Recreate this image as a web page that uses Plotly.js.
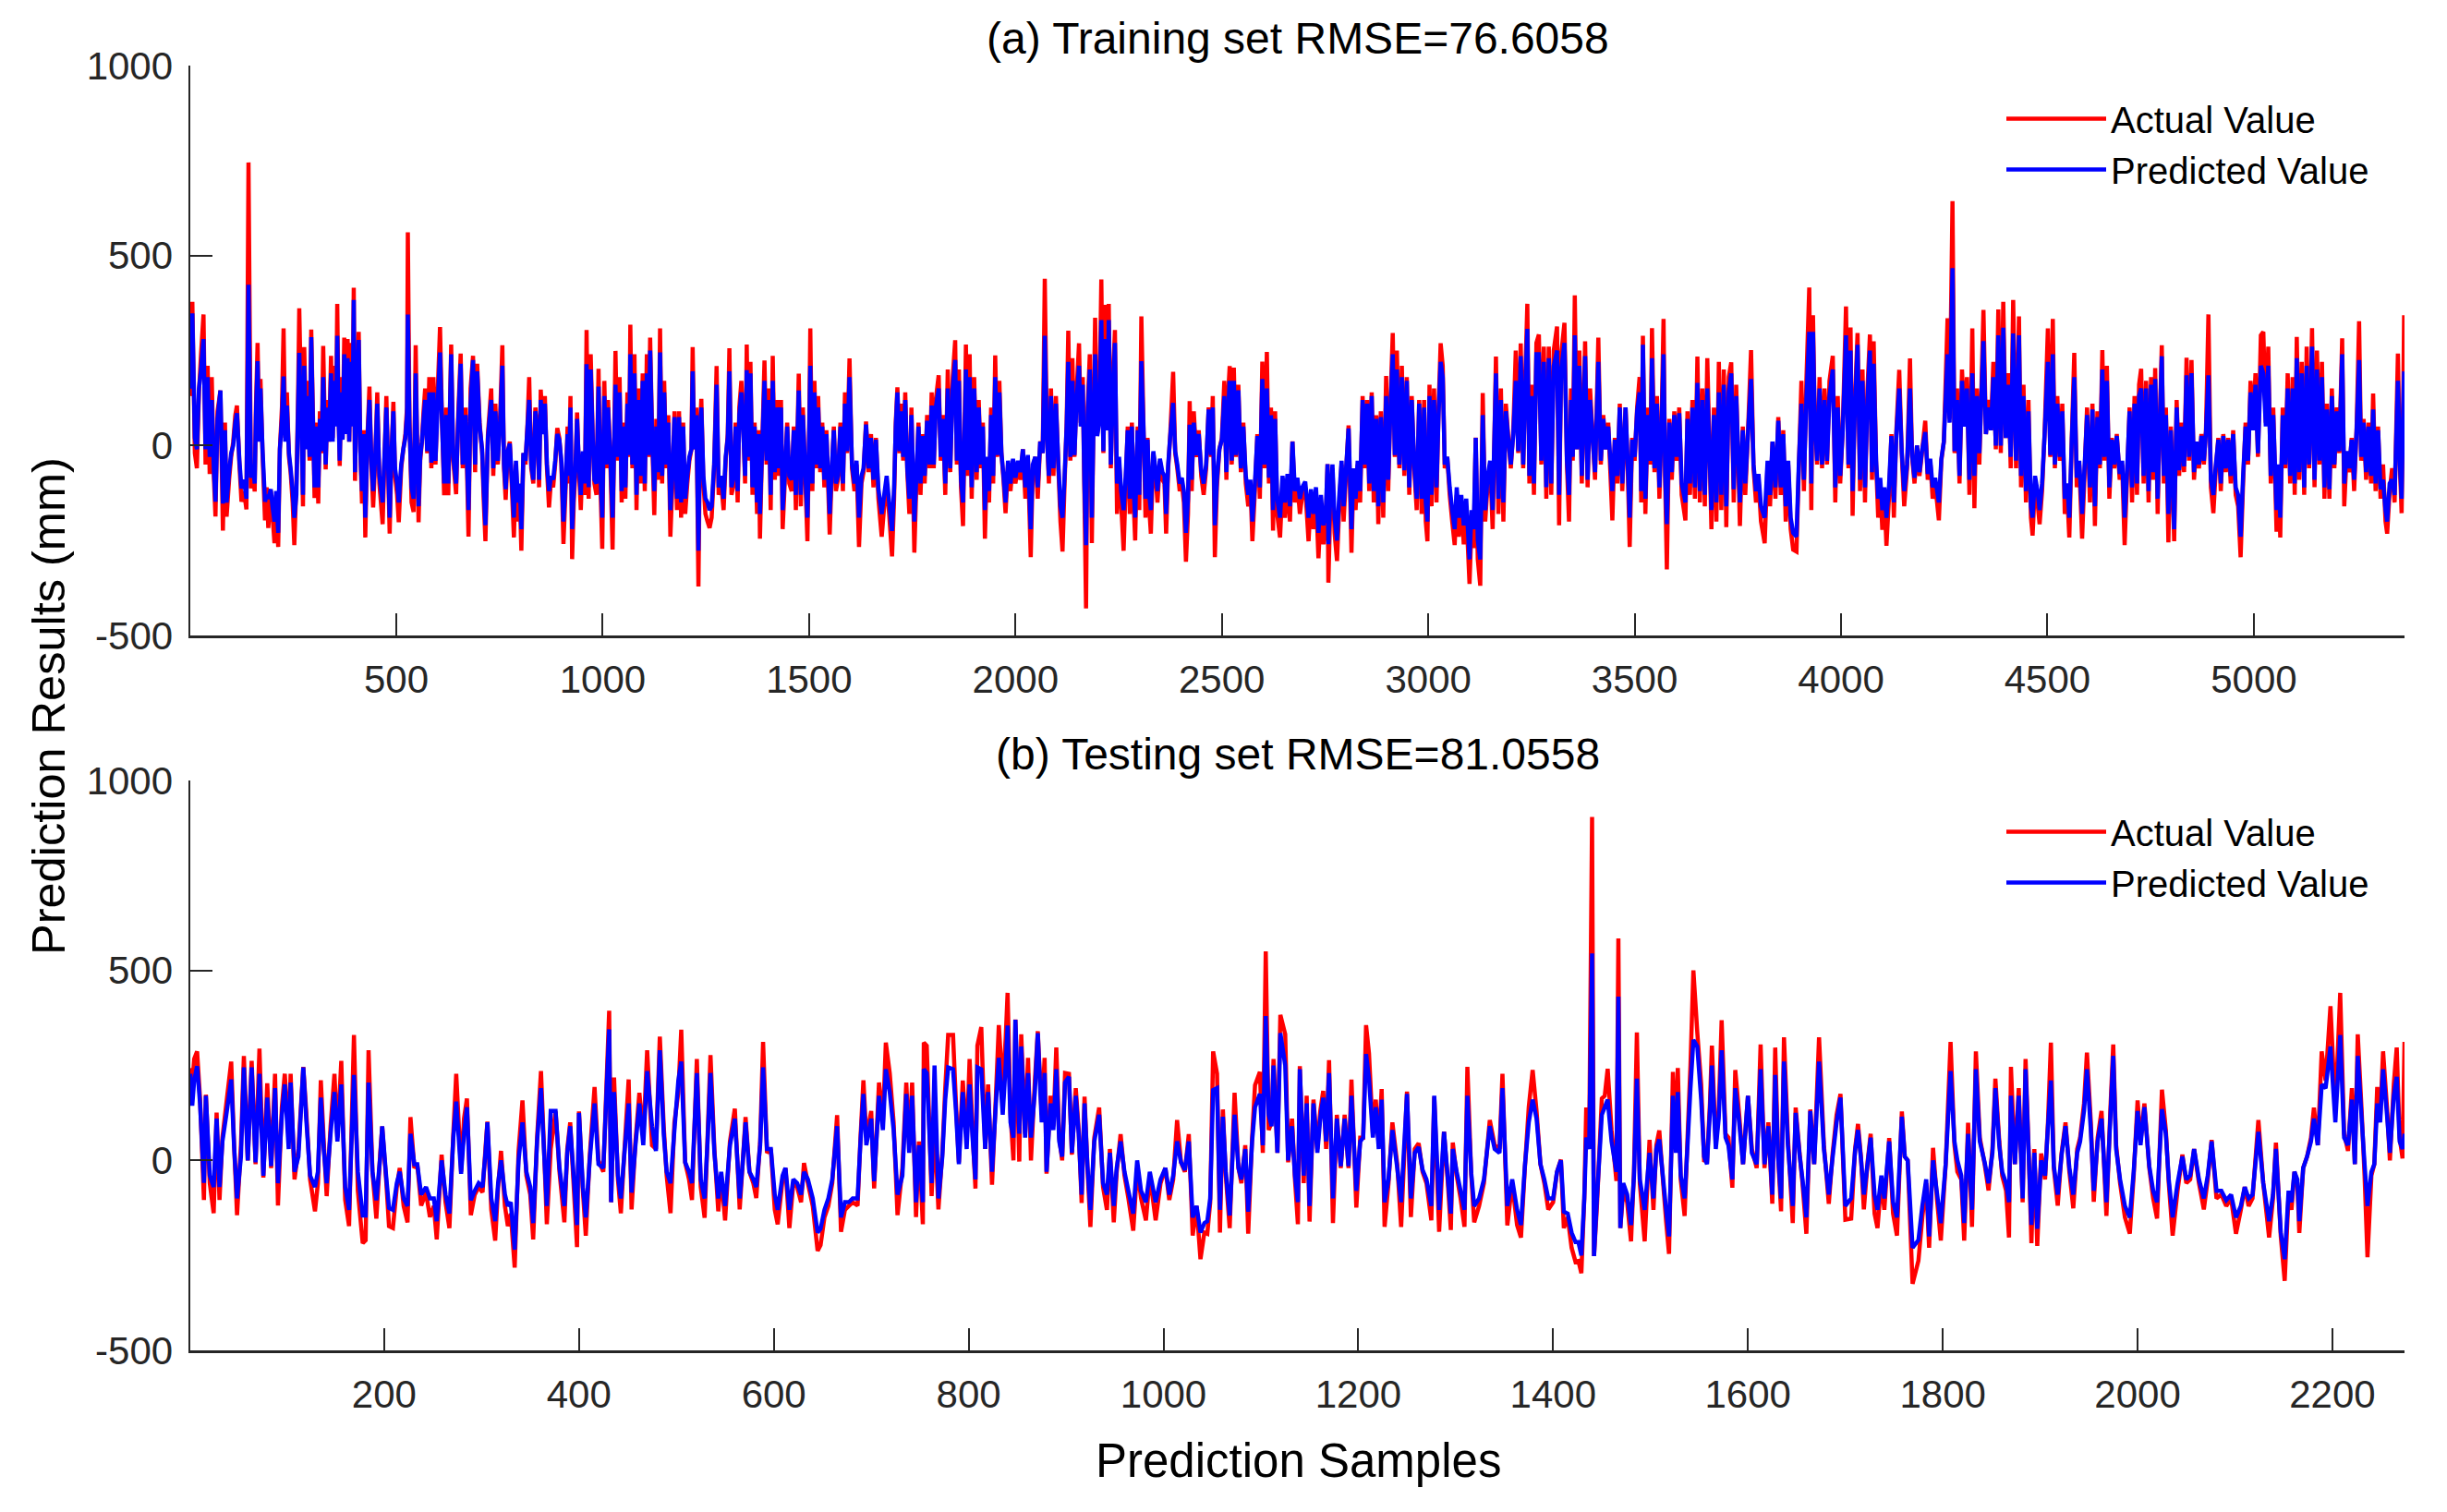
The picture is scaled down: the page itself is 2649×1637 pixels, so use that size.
<!DOCTYPE html>
<html><head><meta charset="utf-8">
<script src="https://cdn.plot.ly/plotly-3.0.1.min.js"></script>
<style>html,body{margin:0;padding:0;background:#fff}</style></head>
<body><div id="chart" style="width:2649px;height:1637px"></div>
<script>
const trainX=[1,6,12,17,22,27,33,38,43,48,
53,58,62,67,74,80,85,89,95,100,
105,110,114,120,125,131,137,142,148,153,
157,160,164,168,171,176,182,186,190,196,
200,205,209,214,218,223,227,231,235,240,
244,249,253,258,262,265,270,274,277,282,
286,290,294,298,302,306,311,315,319,323,
329,333,337,342,346,350,354,357,360,363,
367,370,374,378,382,386,390,394,397,400,
404,409,413,417,421,425,430,435,440,444,
449,454,459,467,471,476,484,488,493,497,
502,506,512,517,522,526,528,532,537,542,
547,551,554,558,562,566,570,575,580,585,
590,595,600,606,611,616,621,626,633,638,
645,650,656,661,668,675,680,686,691,696,
702,708,712,716,722,730,735,740,746,752,
757,761,765,770,775,780,785,790,795,799,
803,808,813,818,822,827,832,837,842,846,
850,855,860,865,870,875,880,885,890,895,
900,905,910,915,918,922,926,930,934,938,
942,947,952,957,961,966,971,976,980,985,
990,994,999,1004,1009,1013,1018,1024,1031,1036,
1041,1046,1050,1055,1060,1064,1067,1072,1077,1082,
1087,1092,1097,1102,1107,1111,1115,1120,1125,1130,
1135,1139,1144,1149,1154,1159,1164,1169,1174,1180,
1185,1190,1195,1200,1205,1210,1215,1218,1222,1227,
1232,1236,1239,1244,1249,1254,1259,1264,1270,1276,
1281,1287,1293,1298,1303,1307,1312,1318,1322,1327,
1331,1336,1341,1345,1349,1353,1358,1363,1368,1374,
1378,1381,1385,1392,1397,1402,1407,1412,1417,1422,
1427,1432,1436,1441,1447,1452,1458,1463,1468,1475,
1480,1485,1490,1496,1500,1503,1508,1513,1518,1522,
1527,1532,1537,1542,1550,1555,1560,1565,1570,1576,
1582,1587,1592,1598,1604,1610,1615,1621,1627,1632,
1638,1644,1650,1656,1662,1668,1676,1682,1688,1694,
1701,1706,1710,1714,1719,1724,1728,1733,1738,1743,
1748,1755,1760,1765,1770,1775,1780,1786,1792,1797,
1802,1807,1814,1819,1824,1830,1836,1842,1848,1854,
1858,1863,1868,1873,1880,1884,1889,1894,1900,1906,
1911,1916,1921,1926,1931,1936,1941,1946,1951,1956,
1961,1966,1971,1976,1982,1988,1994,2000,2006,2012,
2018,2024,2030,2037,2042,2048,2054,2060,2066,2071,
2076,2081,2086,2092,2098,2104,2109,2114,2119,2124,
2128,2133,2138,2143,2148,2154,2158,2163,2167,2171,
2175,2180,2185,2189,2193,2198,2203,2208,2213,2218,
2222,2226,2231,2236,2241,2246,2251,2256,2262,2267,
2272,2277,2282,2286,2290,2296,2300,2305,2310,2315,
2320,2325,2328,2334,2339,2344,2350,2356,2361,2365,
2370,2375,2382,2387,2392,2398,2403,2408,2413,2418,
2422,2427,2432,2438,2444,2450,2456,2462,2468,2474,
2478,2483,2488,2494,2500,2506,2511,2516,2519,2524,
2529,2534,2540,2546,2552,2558,2564,2569,2574,2580,
2586,2592,2598,2603,2609,2614,2619,2624,2629,2634,
2641,2647,2653,2659,2665,2671,2677,2683,2689,2695,
2702,2710,2716,2722,2728,2734,2740,2746,2752,2756,
2758,2763,2768,2773,2779,2784,2790,2795,2801,2807,
2814,2819,2824,2829,2835,2841,2846,2852,2857,2863,
2868,2874,2879,2885,2891,2898,2903,2908,2914,2919,
2924,2930,2936,2942,2948,2954,2960,2966,2972,2978,
2984,2990,2994,2998,3003,3008,3014,3020,3025,3030,
3035,3040,3046,3052,3058,3064,3069,3074,3080,3086,
3092,3100,3105,3110,3115,3120,3126,3132,3138,3144,
3150,3156,3164,3170,3176,3182,3188,3194,3200,3206,
3212,3218,3224,3230,3235,3240,3245,3250,3256,3262,
3268,3274,3280,3286,3292,3298,3304,3312,3317,3322,
3330,3336,3341,3346,3350,3355,3360,3366,3372,3380,
3386,3392,3398,3404,3412,3418,3424,3430,3436,3446,
3452,3458,3464,3470,3478,3483,3488,3494,3500,3506,
3512,3516,3520,3526,3532,3538,3542,3548,3554,3560,
3565,3570,3574,3578,3584,3590,3596,3602,3608,3614,
3623,3628,3634,3640,3646,3652,3658,3664,3670,3676,
3686,3692,3698,3704,3710,3716,3722,3728,3734,3740,
3746,3755,3762,3768,3774,3782,3788,3794,3800,3806,
3815,3822,3828,3834,3841,3848,3854,3860,3866,3872,
3878,3884,3892,3898,3904,3910,3916,3923,3928,3932,
3936,3942,3948,3954,3960,3966,3972,3980,3986,3992,
3998,4004,4012,4018,4023,4028,4033,4040,4046,4052,
4058,4064,4070,4075,4079,4085,4090,4095,4100,4105,
4110,4116,4122,4128,4134,4141,4147,4153,4160,4167,
4172,4178,4184,4190,4196,4204,4210,4216,4222,4228,
4237,4243,4249,4258,4263,4270,4275,4281,4287,4293,
4299,4305,4311,4318,4323,4329,4335,4340,4345,4351,
4357,4363,4369,4375,4381,4387,4393,4399,4405,4411,
4417,4424,4431,4436,4442,4448,4454,4460,4464,4470,
4476,4481,4487,4493,4501,4507,4513,4518,4524,4530,
4536,4542,4548,4553,4559,4565,4571,4577,4584,4590,
4596,4603,4609,4615,4621,4627,4633,4638,4644,4650,
4656,4662,4668,4675,4681,4687,4693,4699,4705,4711,
4717,4722,4727,4733,4739,4745,4751,4756,4761,4767,
4772,4777,4782,4787,4793,4799,4807,4813,4819,4825,
4831,4837,4843,4849,4855,4861,4867,4873,4879,4884,
4890,4896,4902,4908,4914,4920,4926,4932,4938,4944,
4950,4956,4962,4968,4974,4980,4986,4992,4998,5004,
5010,5017,5023,5029,5035,5041,5047,5055,5059,5064,
5070,5076,5082,5088,5094,5099,5104,5110,5116,5122,
5128,5134,5141,5147,5153,5159,5165,5171,5177,5183,
5189,5195,5201,5207,5214,5219,5225,5231,5237,5243,
5249,5255,5260,5266,5272,5278,5284,5289,5295,5301,
5307,5313,5319,5323,5329,5335,5341,5349,5354,5358,
5362,5364];
const trainActual=[130,378,-20,-60,140,240,345,-50,210,-75,
180,-80,-187,90,145,-224,60,-187,-90,-30,
10,80,105,-50,-148,-120,-168,745,-113,-70,
-121,100,270,20,175,-20,-197,-110,-217,-120,
-180,-257,-130,-267,-10,100,308,20,140,-30,
-70,-150,-262,-100,120,361,80,-160,259,20,
170,-40,305,90,-138,60,-153,90,-20,262,
-63,120,10,236,20,210,60,373,100,-54,
180,20,284,40,280,10,270,60,415,-93,
150,299,-20,-153,40,-242,20,155,-60,-163,
-40,140,-100,-207,-50,130,-232,-40,115,-80,
-130,-202,-60,-10,30,100,561,70,-150,-175,
264,-30,-202,-40,10,90,150,-20,180,-60,
180,-50,130,312,60,-131,100,-131,266,-40,
-128,80,242,-60,100,-240,150,236,-70,215,
60,-20,-150,-252,30,150,-80,110,-50,90,
264,-60,-143,-20,10,-110,-242,-50,-200,-120,
-277,-20,-50,60,180,-60,-100,100,40,-110,
147,40,130,-60,-163,-90,-110,-50,46,20,
-50,-259,-120,50,-100,130,-299,-150,-70,87,
-50,-170,-20,-130,304,-140,240,20,-100,-130,
202,-80,-272,170,-60,120,-20,-274,249,-40,
180,-150,60,-140,140,-30,318,-60,240,-170,
150,-100,190,-120,240,-30,284,20,-183,70,
-90,308,-100,170,-60,80,-240,-100,90,-170,
90,-190,60,-180,-100,-40,-10,259,-10,100,
-371,50,123,-100,-180,-200,-217,-190,-60,209,
-130,-100,-170,-40,30,256,-130,-100,60,-150,
100,170,40,-100,266,-40,220,-130,60,-180,
40,-245,-60,224,-50,150,-170,236,-90,120,
-80,120,-220,-100,60,-100,-120,50,-170,189,
-160,100,-60,-252,20,308,-120,170,-60,130,
-70,60,-110,40,-234,-70,50,-120,-90,60,
-120,140,-20,229,-60,-120,-50,-267,-100,-70,
63,-70,30,-110,20,-140,-240,-160,-100,-180,
-292,-140,60,153,-20,110,-40,140,-70,-180,
100,-282,-100,60,-130,30,-100,80,-60,140,
-60,120,185,-40,80,-130,200,-70,180,277,
-50,200,-110,-212,266,-80,240,-140,180,-90,
120,-60,60,-245,-40,-150,100,-100,237,-30,
170,-20,-90,-178,-50,-120,-40,-100,-50,-90,
-10,-140,-30,-294,-60,-30,-140,11,-20,439,
40,-100,150,-80,130,-60,-200,-279,-100,60,
302,-40,230,-30,140,269,60,180,-130,-429,
100,240,-257,60,336,30,80,437,-20,370,
50,373,-60,170,304,-180,-40,-150,-277,-100,
50,-180,60,-140,-250,50,-170,340,60,-190,
20,-180,-232,-20,-70,-150,-40,-90,-100,-232,
-60,30,194,-20,-60,-120,-100,-150,-306,-180,
117,-120,90,-30,40,-80,-130,-60,100,-30,
130,-294,-110,-10,20,170,-90,150,209,-50,
205,-30,160,-70,60,-100,-160,-100,-252,-120,
30,-140,221,-60,246,-100,100,-224,90,-180,
-242,-100,-190,-90,-200,11,-150,-100,-180,-130,
-110,-252,-130,-220,-130,-297,-160,-260,-200,-49,
-361,-150,-60,-230,-304,-170,-50,-200,-70,53,
-282,-70,-170,-50,-150,130,-60,120,-120,140,
-150,80,-207,90,-190,183,-120,100,296,-30,
250,-60,210,-80,180,-130,130,-60,-170,120,
-180,120,-200,-252,160,-160,150,-150,100,269,
210,-60,-30,-130,-200,-262,-130,-240,-150,-260,
-170,-364,-200,-270,21,-300,-369,138,-200,-100,
-50,-220,234,-180,150,-200,110,20,-60,40,
250,-20,269,-60,180,373,-100,160,-130,270,
292,-50,260,-140,260,-130,250,313,-210,240,
323,-50,-200,150,-40,395,-10,250,-100,274,
-110,150,30,-90,284,-50,80,-10,60,-197,
20,-100,110,-120,100,-50,-267,20,-40,100,
180,-150,289,-180,100,-50,309,-70,130,-140,
50,333,-100,-326,70,-90,90,-40,100,-130,
-197,90,-130,120,-140,234,-150,150,-160,230,
-220,100,-200,220,-170,200,-215,180,219,-150,
160,-212,50,-130,20,251,-60,-150,-90,-200,
-257,-50,-160,10,-140,75,-130,40,-200,-50,
-220,-274,-279,-50,170,-120,170,416,-170,343,
100,-50,180,-60,150,-50,170,236,-150,130,
-100,40,366,-60,311,-185,100,296,-120,200,
-150,150,292,-90,274,-50,-190,-100,-222,-130,
-264,-140,30,-190,40,199,-20,-160,-60,229,
-30,-100,0,-80,-20,65,-90,-40,-140,-100,
-197,-40,10,335,70,643,-20,150,-100,200,
60,180,-130,308,-165,150,-50,150,357,30,
120,40,220,-10,358,-20,378,20,190,-60,
383,-60,340,-110,160,-150,120,-190,-237,-100,
-150,-207,-120,30,308,-30,333,-60,130,-40,
110,-180,-130,-242,20,244,-110,-50,-245,-70,
100,-150,110,-212,90,-60,251,-40,210,-140,
20,-60,30,-90,-50,-262,-80,100,-150,130,
-130,160,202,-100,170,-150,180,-90,204,-180,
60,264,-100,100,-255,50,-252,120,-80,60,
-70,231,-40,225,-90,10,-60,30,-50,40,
345,-110,-178,-60,20,-120,30,-70,20,-100,
40,-130,-160,-294,-100,60,-50,170,50,190,
-30,290,299,60,260,-100,100,-227,-60,-242,
100,-60,190,-100,180,-130,286,-90,220,-130,
260,-60,309,-110,250,-50,220,-140,110,-140,
150,-60,100,-20,282,-160,-20,-70,20,-120,
50,327,-40,70,-90,60,-100,137,-120,50,
-140,-50,-200,-232,-120,-60,-150,242,-60,-178,
120,343];
const trainPred=[150,348,20,-10,150,200,280,-10,180,-30,
120,-60,-148,70,145,-153,40,-150,-70,-20,
0,60,85,-40,-113,-90,-140,423,-85,-50,
-100,80,222,10,150,-10,-148,-130,-140,-115,
-160,-200,-120,-230,-10,70,182,10,105,-20,
-60,-120,-190,-130,90,244,60,-130,210,-10,
130,-30,285,70,-110,50,-110,70,-15,180,
-50,100,10,190,10,170,50,289,80,-40,
140,15,240,30,230,10,220,50,383,-70,
120,278,-15,-120,30,-190,15,120,-50,-120,
-30,110,-80,-150,-40,100,-190,-30,90,-60,
-100,-150,-50,-10,20,80,345,50,-110,-140,
190,-20,-160,-30,10,70,120,-15,140,-45,
140,-40,100,245,50,-100,80,-100,240,-30,
-100,60,215,-50,80,-170,110,225,-50,195,
50,-10,-120,-210,20,120,-60,90,-40,70,
210,-50,-115,-15,5,-90,-190,-40,-150,-100,
-220,-20,-40,50,120,-50,-90,90,30,-90,
120,30,110,-50,-120,-80,-90,-40,30,15,
-40,-200,-100,30,-80,100,-220,-120,-60,70,
-40,-130,-15,-100,214,-110,200,15,-90,-100,
155,-60,-190,130,-50,100,-15,-190,160,-30,
140,-120,50,-110,110,-25,240,-50,190,-130,
120,-80,170,-100,190,-25,250,15,-120,50,
-70,245,-80,140,-50,60,-170,-80,75,-140,
75,-150,50,-140,-80,-30,-10,195,-10,80,
-277,40,100,-80,-140,-150,-170,-160,-50,160,
-110,-80,-140,-30,20,195,-110,-80,50,-120,
80,140,30,-80,198,-30,190,-110,50,-150,
30,-180,-50,170,-40,120,-130,170,-70,100,
-60,100,-170,-80,50,-80,-90,40,-130,145,
-130,80,-50,-190,15,210,-100,140,-50,100,
-60,50,-90,30,-180,-60,40,-100,-80,50,
-100,110,-15,180,-50,-100,-40,-190,-80,-60,
55,-60,20,-90,15,-115,-180,-130,-80,-150,
-225,-110,50,140,-15,90,-30,120,-60,-140,
80,-200,-80,50,-100,25,-80,65,-50,105,
-50,100,150,-30,70,-100,150,-60,150,225,
-40,170,-90,-150,200,-65,180,-110,150,-70,
100,-50,50,-170,-30,-120,80,-80,180,-25,
140,-20,-80,-150,-40,-100,-35,-85,-40,-70,
-10,-110,-25,-220,-50,-30,-110,10,-20,289,
30,-80,130,-60,110,-50,-160,-190,-80,50,
220,-30,170,-25,120,210,50,160,-100,-262,
80,200,-190,50,240,25,60,330,-15,280,
40,330,-50,140,270,-100,-30,-120,-170,-80,
40,-140,50,-110,-190,40,-130,222,50,-140,
15,-140,-170,-15,-60,-120,-35,-70,-80,-180,
-50,25,112,-15,-50,-100,-85,-120,-230,-140,
55,-90,60,-25,30,-65,-100,-50,95,-25,
100,-210,-90,-10,15,130,-70,110,170,-40,
170,-25,145,-60,50,-80,-130,-90,-200,-100,
25,-110,175,-50,150,-85,80,-170,70,-140,
-190,-80,-150,-75,-160,10,-120,-85,-140,-110,
-95,-190,-115,-180,-110,-230,-130,-210,-170,-49,
-260,-130,-50,-190,-250,-140,-40,-160,-60,45,
-220,-60,-140,-40,-120,120,-50,110,-100,130,
-120,70,-160,75,-150,130,-90,85,240,-25,
200,-50,180,-65,170,-110,120,-50,-140,110,
-140,100,-150,-200,130,-130,120,-110,80,220,
180,-50,-30,-110,-170,-220,-110,-190,-130,-210,
-140,-300,-170,-220,20,-250,-300,80,-170,-80,
-40,-170,190,-140,120,-150,90,15,-50,30,
170,-15,235,-50,150,307,-80,130,-100,240,
240,-40,220,-110,230,-100,210,250,-130,200,
270,-40,-130,120,-30,290,-10,210,-80,235,
-90,120,25,-70,220,-40,70,-10,50,-120,
15,-80,100,-100,100,-40,-190,15,-30,90,
140,-120,265,-140,80,-40,230,-60,110,-110,
40,240,-80,-207,60,-70,80,-30,85,-100,
-150,70,-100,100,-110,165,-120,120,-130,150,
-170,80,-150,140,-130,160,-160,140,190,-115,
130,-150,40,-100,20,175,-50,-120,-75,-160,
-190,-40,-130,10,-110,65,-110,30,-160,-40,
-190,-230,-240,-40,110,-90,120,299,-100,299,
80,-40,150,-50,120,-40,130,200,-110,100,
-80,35,290,-50,250,-120,80,265,-90,170,
-110,120,250,-70,215,-40,-140,-85,-170,-110,
-190,-110,25,-150,30,150,-15,-120,-50,150,
-25,-85,0,-70,-15,35,-75,-35,-110,-85,
-150,-35,10,240,60,467,-15,120,-80,170,
50,150,-90,190,-80,130,-20,130,275,30,
100,40,180,0,290,0,310,20,160,-30,
295,-40,290,-80,130,-120,90,-160,-190,-80,
-120,-170,-100,25,220,-25,240,-50,110,-30,
90,-140,-100,-190,15,180,-85,-40,-180,-55,
80,-110,95,-160,75,-50,200,-30,170,-110,
15,-50,25,-75,-40,-190,-65,90,-110,110,
-100,130,150,-80,150,-120,160,-70,175,-140,
50,235,-80,80,-180,40,-220,100,-65,50,
-55,185,-30,190,-70,10,-50,25,-40,35,
185,-90,-130,-50,15,-100,25,-60,15,-80,
30,-110,-130,-240,-80,50,-40,140,40,160,
-20,210,190,50,210,-80,80,-170,-50,-190,
80,-50,150,-80,150,-100,230,-70,190,-110,
210,-50,260,-90,200,-40,180,-110,95,-115,
130,-50,90,-15,240,-100,-15,-60,15,-90,
40,225,-30,60,-70,50,-80,95,-100,40,
-115,-90,-170,-200,-100,-90,-130,170,-50,-140,
100,195];

const testX=[1,3,5,8,11,15,17,21,25,28,
31,34,38,43,46,49,53,56,60,64,
68,72,76,80,84,88,91,95,98,102,
104,108,112,117,120,124,129,132,135,138,
141,145,149,152,156,160,164,169,173,178,
181,184,188,192,196,198,202,205,209,213,
216,220,224,227,231,234,238,243,247,251,
254,259,263,267,271,274,279,282,285,289,
293,297,301,304,306,310,314,317,320,324,
327,330,334,338,342,346,350,353,357,361,
364,367,371,376,380,385,388,391,398,400,
404,407,411,416,420,425,431,433,436,440,
443,447,451,454,458,462,466,470,475,479,
483,487,490,494,498,502,505,509,513,516,
521,525,529,532,535,539,543,546,550,555,
560,565,568,571,575,579,582,586,589,593,
597,601,604,609,612,616,620,624,628,631,
635,640,645,648,652,656,660,665,669,673,
677,681,686,689,692,695,700,703,708,712,
715,719,723,727,732,736,739,742,746,749,
753,754,757,762,765,769,773,776,779,784,
787,790,794,798,801,804,807,809,813,817,
820,824,828,831,835,838,840,843,846,848,
852,854,858,861,864,868,871,875,878,880,
884,887,890,893,896,899,903,906,910,913,
916,919,922,925,929,934,938,942,945,949,
952,956,960,964,969,973,977,982,986,992,
997,1002,1006,1010,1014,1018,1022,1026,1030,1034,
1038,1042,1045,1048,1051,1055,1058,1061,1064,1068,
1073,1077,1080,1084,1087,1091,1094,1099,1102,1105,
1108,1111,1113,1117,1120,1125,1128,1132,1135,1138,
1140,1144,1147,1150,1154,1158,1161,1164,1167,1170,
1174,1178,1182,1186,1190,1193,1198,1202,1205,1208,
1211,1215,1218,1221,1224,1227,1231,1235,1240,1244,
1250,1254,1258,1262,1266,1270,1275,1278,1283,1288,
1292,1295,1297,1301,1305,1309,1312,1316,1319,1324,
1329,1335,1340,1345,1348,1353,1358,1363,1367,1371,
1375,1379,1383,1387,1391,1395,1400,1404,1408,1411,
1415,1419,1423,1426,1429,1432,1434,1437,1440,1442,
1445,1450,1453,1456,1460,1465,1467,1469,1472,1476,
1480,1483,1486,1489,1494,1499,1503,1506,1509,1513,
1516,1519,1523,1526,1528,1531,1535,1538,1541,1544,
1548,1552,1555,1558,1561,1563,1567,1570,1573,1577,
1580,1584,1587,1591,1595,1600,1604,1609,1613,1617,
1621,1625,1628,1631,1634,1637,1641,1646,1649,1653,
1656,1660,1664,1668,1673,1678,1683,1687,1691,1695,
1700,1706,1710,1713,1716,1719,1723,1726,1730,1733,
1737,1740,1745,1749,1753,1758,1761,1764,1769,1775,
1779,1783,1786,1790,1794,1798,1803,1808,1812,1815,
1819,1822,1826,1830,1834,1838,1843,1847,1851,1854,
1858,1861,1865,1868,1870,1874,1878,1882,1885,1888,
1891,1894,1897,1901,1905,1908,1911,1914,1918,1922,
1926,1930,1934,1938,1941,1945,1948,1952,1955,1959,
1963,1968,1972,1975,1978,1982,1987,1992,1996,2000,
2003,2007,2012,2016,2020,2025,2029,2032,2036,2041,
2046,2050,2054,2058,2063,2068,2072,2076,2081,2086,
2091,2096,2101,2106,2110,2114,2118,2124,2129,2135,
2139,2142,2147,2151,2155,2158,2161,2164,2166,2170,
2174,2178,2181,2185,2189,2193,2198,2203,2208,2212,
2216,2220,2223,2226,2230,2233,2236,2240,2243,2246,
2249,2252,2256,2259,2263,2266,2269,2272,2274];
const testActual=[243,200,267,287,163,-104,173,-60,-139,126,
-104,60,150,260,40,-144,40,275,0,262,
-10,294,-45,203,-20,228,-119,140,228,60,
228,-50,30,246,130,-50,-134,-60,211,50,
-94,90,228,60,262,-104,-173,330,-80,-218,
-210,290,-30,-153,20,89,-50,-173,-178,-70,
-20,-120,-163,114,-20,-10,-119,-85,-149,-120,
-208,15,-110,-178,70,228,-30,110,163,-144,
-90,-70,-84,30,102,-130,-211,-70,25,-120,
-173,-140,-282,25,158,-40,-90,-208,60,235,
40,-168,30,129,-30,-163,30,100,-228,129,
-80,-198,10,193,0,-30,394,-110,218,-50,
-139,40,213,-129,50,178,60,290,40,30,
326,90,-40,-139,100,180,344,-5,-50,-104,
267,-70,-151,60,277,30,-134,-40,-158,50,
136,-129,-10,114,-30,-60,-99,50,312,20,
30,-130,-168,-50,-20,-178,-60,-70,-110,-7,
-60,-120,-238,-223,-150,-120,-60,119,-188,-130,
-120,-110,-119,60,211,60,130,-74,205,100,
310,230,100,-144,-20,205,40,205,-149,50,
-168,310,302,-94,100,-129,20,190,330,330,
150,-5,210,50,267,80,-74,302,351,30,
200,-64,170,356,190,320,441,120,0,371,
-3,332,70,270,0,210,340,120,270,-35,
170,90,297,60,0,230,228,15,190,80,
-112,168,-20,-175,60,139,-70,-130,30,-163,
-30,69,-40,-100,-185,-20,-100,-158,-40,-158,
-60,-20,-104,-50,106,-5,-30,69,-198,-120,
-260,-190,-193,-110,287,228,-190,134,-40,-178,
178,-20,-60,40,-193,60,198,233,20,550,
80,100,267,20,383,332,-5,110,-50,-168,
248,-60,170,-161,160,30,130,183,30,264,
-165,120,-20,120,-20,213,-124,60,60,356,
282,70,160,40,188,-175,-60,100,-10,-175,
181,-149,30,45,-30,-60,-158,168,-188,76,
-60,-183,47,-40,-100,-175,246,-40,-163,-120,
-60,106,40,30,228,-171,-60,-170,-203,-20,
140,238,130,-10,-60,-129,-110,-30,2,-178,
-150,-230,-267,-265,-297,-100,139,30,904,-252,
-120,163,170,241,80,-54,584,-178,-80,-110,
-213,-30,337,-60,-213,54,-130,40,79,-60,
-160,-246,233,40,243,-50,-146,60,250,500,
337,200,0,-2,150,302,40,130,369,70,
60,-72,238,120,-10,170,30,-20,305,-20,
100,-114,297,10,-134,324,60,-165,139,20,
-60,-193,134,-10,324,40,-114,20,120,175,
-156,-153,30,96,10,-129,0,70,-140,-178,
-50,-130,59,-140,-198,129,10,0,-325,-264,
-150,-60,-230,33,-100,-211,-10,312,40,-30,
-50,-211,99,-175,287,60,-10,-79,30,215,
50,-40,-80,-203,246,-10,190,-110,267,40,
-218,30,-225,18,-50,100,310,-20,-119,20,
100,-30,-126,30,60,150,284,100,-109,60,
130,-146,130,305,40,-60,-150,-193,-40,158,
50,150,-20,-100,-153,186,80,-60,-198,-80,
15,-60,-50,30,-60,-129,-50,54,-100,-90,
-120,-100,-193,-130,-70,-120,-100,106,-60,-203,
-100,47,-200,-317,-90,-130,-30,-60,-191,-20,
10,60,139,40,287,210,406,130,441,70,
25,190,-10,332,130,-40,-255,-40,-10,193,
110,287,140,0,200,297,60,5,312];
const testPred=[228,144,210,248,150,-59,170,-40,-70,110,
-70,50,120,213,35,-100,10,245,0,245,
-5,228,-40,165,-15,190,-60,120,200,30,
205,-30,10,245,110,-40,-70,-30,165,30,
-60,70,180,50,200,-70,-130,225,-30,-145,
-145,205,-30,-105,10,90,-40,-125,-130,-60,
-30,-100,-120,70,-10,-10,-90,-70,-100,-100,
-160,0,-90,-140,60,155,-35,70,140,-105,
-80,-60,-70,20,100,-100,-160,-60,0,-90,
-120,-110,-235,0,100,-30,-70,-165,50,190,
30,-120,130,130,-20,-120,20,90,-170,125,
-70,-150,0,150,-10,-20,345,-110,180,-40,
-100,30,150,-85,40,150,40,235,90,25,
290,70,-30,-60,80,210,260,-5,-30,-60,
230,-50,-100,50,230,20,-100,-30,-120,40,
110,-100,-10,100,-30,-50,-70,40,245,30,
30,-90,-130,-40,-20,-130,-50,-60,-90,-30,
-50,-100,-190,-180,-130,-100,-50,90,-150,-110,
-110,-100,-100,50,175,40,110,-55,170,80,
240,180,80,-90,-40,175,20,170,-110,40,
-110,240,230,-60,250,-100,10,160,245,240,
130,-10,180,30,200,60,-50,245,240,30,
180,-30,150,270,120,250,355,100,60,370,
70,300,60,230,60,180,335,100,230,-30,
150,80,240,50,10,205,220,20,170,70,
-90,150,-15,-130,50,120,-60,-90,20,-120,
-20,50,-30,-80,-140,0,-80,-110,-30,-110,
-50,-20,-90,-40,50,-5,-25,50,-150,-120,
-190,-165,-160,-100,185,190,-130,115,-30,-145,
120,-20,-50,30,-135,50,140,175,40,380,
120,90,250,20,335,250,0,90,-40,-110,
240,-40,150,-120,150,20,110,165,50,230,
-100,110,-15,110,-15,170,-80,50,60,280,
215,60,140,30,160,-110,-50,80,-20,-110,
175,-100,20,35,-25,-50,-120,170,-130,75,
-50,-140,30,-30,-80,-130,170,-35,-120,-100,
-50,90,30,20,190,-120,-50,-130,-170,-15,
100,160,110,-10,-50,-100,-100,-30,0,-135,
-140,-190,-215,-215,-250,-100,60,30,545,-252,
-100,120,140,160,50,-30,431,-178,-60,-90,
-170,-40,215,-50,-130,20,-100,30,55,-50,
-130,-200,170,20,180,-40,-100,40,190,317,
300,160,10,-10,130,250,30,110,290,60,
40,-50,190,100,-10,170,20,-10,240,-10,
90,-90,225,10,-100,260,40,-120,125,15,
-50,-150,130,-10,260,30,-90,10,100,165,
-120,-100,25,80,5,-90,-5,60,-90,-130,
-40,-100,50,-110,-150,115,10,0,-230,-210,
-120,-50,-200,0,-85,-165,-10,235,50,0,
-40,-165,70,-130,240,50,-5,-60,20,190,
40,-30,-60,-110,170,-10,170,-100,240,30,
-170,20,-180,0,-40,90,210,-15,-90,15,
90,-20,-90,20,50,130,240,80,-80,50,
110,-110,110,275,30,-50,-120,-150,-30,130,
40,140,-15,-80,-110,135,70,-50,-150,-60,
10,-50,-40,30,-50,-100,-40,50,-80,-80,
-105,-90,-150,-120,-70,-100,-90,75,-60,-160,
-90,30,-190,-260,-80,-110,-30,-50,-160,-20,
10,50,110,40,200,190,300,100,330,60,
40,160,-10,275,110,-10,-120,-30,-10,150,
100,240,120,20,170,220,50,30,70];

const yTickVals=[-500,0,500,1000];
const yTickText=["-500","0","500","1000"];
const seriesNames=["Actual Value","Predicted Value"];
const titleA="(a) Training set RMSE=76.6058";
const titleB="(b) Testing set RMSE=81.0558";

const W=2649,H=1637,FONT='"Liberation Sans",Arial,sans-serif',INK='#262626';
const L=206/W,R=2603/W;
const mk=(x,y,name,color,xa,ya,lg)=>({type:'scatter',mode:'lines',x,y,name,xaxis:xa,yaxis:ya,legend:lg,
  line:{color,width:4.5,simplify:false},hoverinfo:'skip'});
const traces=[
 mk(trainX,trainActual,seriesNames[0],'#ff0000','x','y','legend'),
 mk(trainX,trainPred,seriesNames[1],'#0000ff','x','y','legend'),
 mk(testX,testActual,seriesNames[0],'#ff0000','x2','y2','legend2'),
 mk(testX,testPred,seriesNames[1],'#0000ff','x2','y2','legend2')];
const xa=(range,dtick,anchor)=>({domain:[L,R],range,dtick,tick0:0,tickmode:'linear',anchor,ticks:'inside',ticklen:24,tickwidth:2,
  tickcolor:INK,showline:true,linecolor:INK,linewidth:2.5,showgrid:false,zeroline:false,mirror:false,
  tickfont:{family:FONT,size:42,color:INK},ticklabelstandoff:9});
const ya=(d,anchor)=>({domain:d,range:[-500,1000],tickmode:'array',tickvals:yTickVals,ticktext:yTickText,anchor,ticks:'inside',ticklen:24,tickwidth:2,
  tickcolor:INK,showline:true,linecolor:INK,linewidth:2.5,showgrid:false,zeroline:false,
  tickfont:{family:FONT,size:42,color:INK},ticklabelstandoff:8});
const lg=(top)=>({x:2167/W,y:1-top/H,xanchor:'left',yanchor:'top',bgcolor:'rgba(0,0,0,0)',borderwidth:0,itemwidth:108,
  font:{family:FONT,size:40,color:'#000'},tracegroupgap:0,itemclick:false,itemdoubleclick:false});
const ann=(text,x,y,size,extra)=>Object.assign({text,x:x/W,y:1-y/H,xref:'paper',yref:'paper',showarrow:false,
  font:{family:FONT,size,color:'#000'},xanchor:'center',yanchor:'middle'},extra||{});
const xaxis2=xa([1,2274],200,'y2');
Plotly.newPlot('chart',traces,{
  width:W,height:H,margin:{l:0,r:0,t:0,b:0},paper_bgcolor:'#fff',plot_bgcolor:'#fff',showlegend:true,
  xaxis:xa([1,5365],500,'y'),yaxis:ya([1-688/H,1-71/H],'x'),
  xaxis2,yaxis2:ya([1-1462/H,1-845/H],'x2'),
  legend:lg(96),legend2:lg(868),
  annotations:[
    ann(titleA,1405,42,48),
    ann(titleB,1405,816,48),
    ann("Prediction Results (mm)",52,765,50.5,{textangle:-90}),
    ann("Prediction Samples",1405,1581,51)
  ]
},{staticPlot:true,displayModeBar:false});
</script></body></html>
